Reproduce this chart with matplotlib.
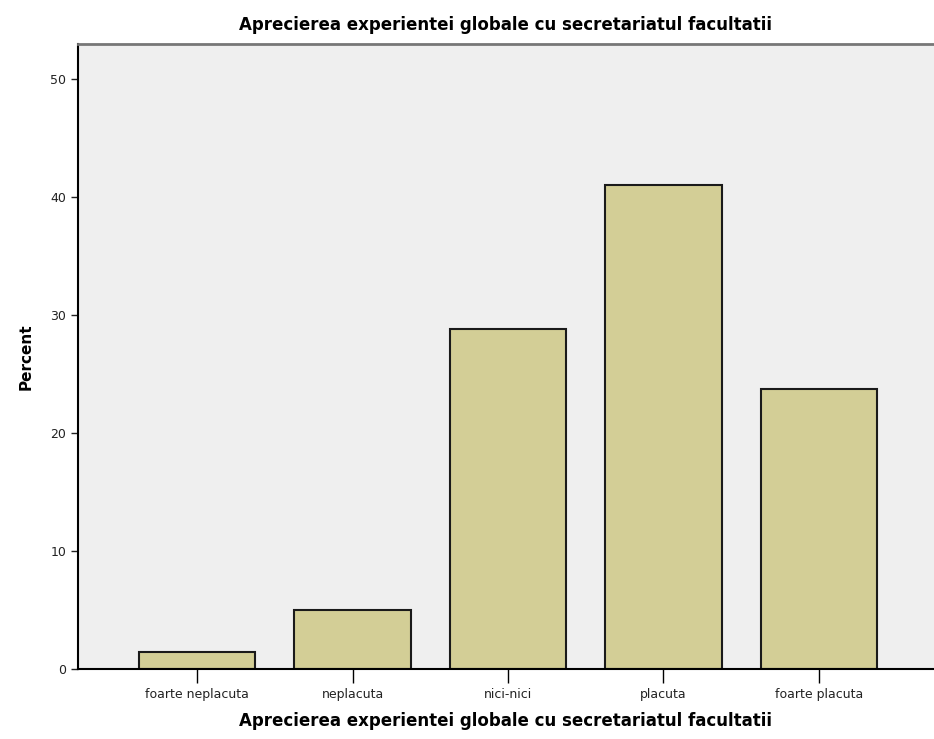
import matplotlib.pyplot as plt

categories = ["foarte neplacuta", "neplacuta", "nici-nici", "placuta", "foarte placuta"]
percent = [1.4, 5.0, 28.8, 41.0, 23.7]
yticks = [0, 10, 20, 30, 40, 50]

title = "Aprecierea experientei globale cu secretariatul facultatii"

fig = plt.figure(figsize=(9.34, 7.39), dpi=100)
ax = fig.add_axes([0.0835, 0.095, 0.9165, 0.845])
ax.set_facecolor('#efefef')

x = range(len(categories))
ax.bar(x, percent, width=0.75, color='#d3ce96', edgecolor='#1a1a1a', linewidth=1.5)

ax.set_xlim(-0.766, 4.74)
ax.set_ylim(0, 52.9)
ax.set_yticks(yticks)
ax.set_xticks(list(x))
ax.set_xticklabels(categories, fontsize=9, color='#222222')
ax.tick_params(axis='y', labelsize=9, length=5, width=1, colors='#222222')
ax.tick_params(axis='x', length=10, width=1, pad=4)

ax.spines['left'].set_linewidth(1.5)
ax.spines['bottom'].set_linewidth(1.5)
ax.spines['top'].set_color('#777777')
ax.spines['top'].set_linewidth(2)
ax.spines['right'].set_visible(False)

ax.set_ylabel("Percent", fontsize=11, fontweight='bold', labelpad=12)
ax.set_xlabel(title, fontsize=12, fontweight='bold', labelpad=8)
ax.set_title(title, fontsize=12, fontweight='bold', pad=10)

plt.savefig('out.png', dpi=100)
